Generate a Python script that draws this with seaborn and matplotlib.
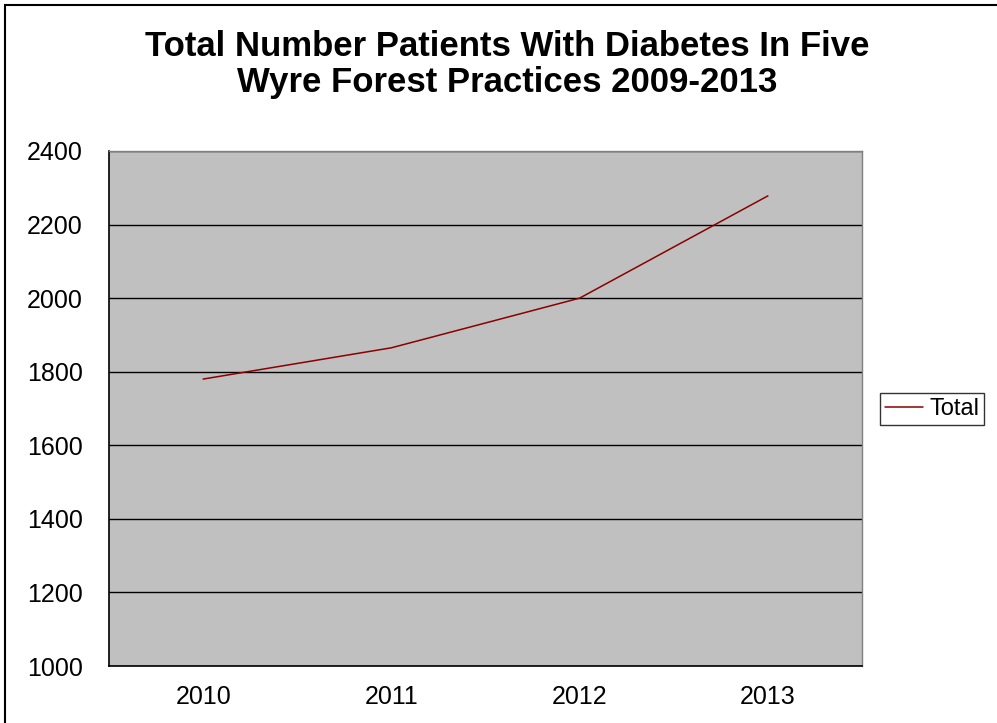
import matplotlib
matplotlib.use("Agg")
import matplotlib.pyplot as plt
import seaborn as sns
import pandas as pd
from matplotlib.patches import Rectangle

years = ["2010", "2011", "2012", "2013"]
totals = [1780, 1865, 2000, 2278]
y_ticks = [1000, 1200, 1400, 1600, 1800, 2000, 2200, 2400]

df = pd.DataFrame({"pos": range(len(years)), "Total": totals})

sns.set_style("white")
plt.rcParams["font.family"] = ["Liberation Sans", "DejaVu Sans"]
plt.rcParams["text.color"] = "black"
plt.rcParams["xtick.color"] = "black"
plt.rcParams["ytick.color"] = "black"

W, H = 997, 723
fig = plt.figure(figsize=(W / 100, H / 100), dpi=100)
ax = fig.add_axes([109 / W, 1 - 666 / H, 753 / W, 515 / H])
ax.set_facecolor("#C0C0C0")

sns.lineplot(data=df, x="pos", y="Total", ax=ax, color="#8B0000",
             linewidth=1.1, label="Total", legend=False)

ax.set_xlim(-0.5, len(years) - 0.5)
ax.set_ylim(y_ticks[0], y_ticks[-1])
ax.set_yticks(y_ticks)
ax.set_yticklabels([str(v) for v in y_ticks], fontsize=18)
ax.yaxis.grid(True, color="black", linewidth=1)
ax.set_axisbelow(True)

# category boundaries carry the tick marks, labels sit between them
ax.set_xticks([i - 0.5 for i in range(len(years) + 1)])
ax.set_xticklabels([])
ax.set_xticks(list(range(len(years))), minor=True)
ax.set_xticklabels(years, minor=True, fontsize=18)
ax.tick_params(axis="x", which="major", direction="out", length=7, width=1)
ax.tick_params(axis="x", which="minor", length=0, pad=14)
ax.tick_params(axis="y", direction="out", length=8, width=1, pad=11)

ax.set_xlabel("")
ax.set_ylabel("")
for side in ["left", "bottom"]:
    ax.spines[side].set_color("black")
    ax.spines[side].set_linewidth(1.2)
for side in ["top", "right"]:
    ax.spines[side].set_color("#808080")
    ax.spines[side].set_linewidth(1)

fig.suptitle("Total Number Patients With Diabetes In Five\nWyre Forest Practices 2009-2013",
             x=507 / W, y=1 - 30 / H, va="top", fontsize=25, fontweight="bold",
             linespacing=1.12)

handles, labels = ax.get_legend_handles_labels()
leg = fig.legend(handles, labels, loc="center left",
                 bbox_to_anchor=(880 / W, 1 - 409 / H), fontsize=17,
                 frameon=True, fancybox=False, edgecolor="black",
                 handlelength=1.6, handletextpad=0.3, borderpad=0.2,
                 borderaxespad=0)
leg.get_frame().set_linewidth(1)

fig.patches.append(Rectangle((5 / W, -0.05), 1.2, 1 - 5 / H + 0.05,
                             transform=fig.transFigure, fill=False,
                             edgecolor="black", linewidth=1.5, clip_on=False))

fig.savefig("out.png", dpi=100)
